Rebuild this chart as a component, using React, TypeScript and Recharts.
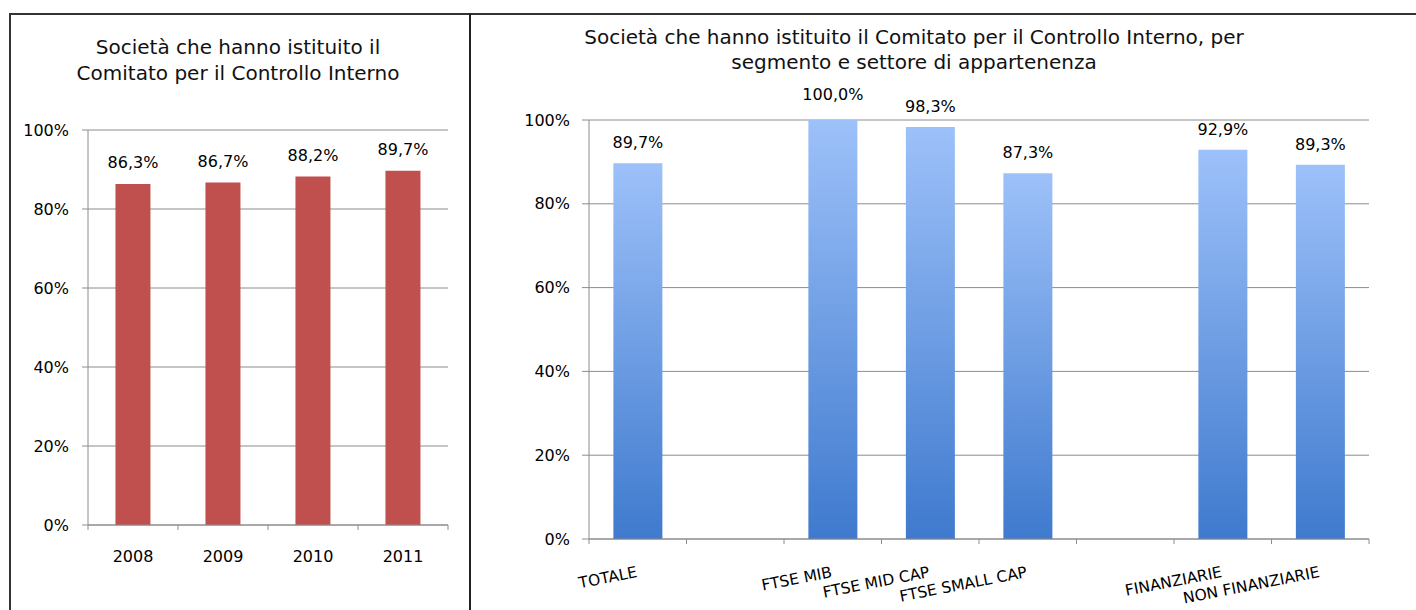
import React from 'react';
import { BarChart, Bar, XAxis, YAxis, CartesianGrid, LabelList } from 'recharts';

const leftYears = ['2008', '2009', '2010', '2011'];
const leftValues = [86.3, 86.7, 88.2, 89.7];

const rightCategories = ['TOTALE', '', 'FTSE MIB', 'FTSE MID CAP', 'FTSE SMALL CAP', '', 'FINANZIARIE', 'NON FINANZIARIE'];
const rightValues: (number | null)[] = [89.7, null, 100.0, 98.3, 87.3, null, 92.9, 89.3];

const yTicks = [0, 20, 40, 60, 80, 100];

const leftTitle = ['Società che hanno istituito il', 'Comitato per il Controllo Interno'];
const rightTitle = ['Società che hanno istituito il Comitato per il Controllo Interno, per', 'segmento e settore di appartenenza'];

const FONT = 'DejaVu Sans, Verdana, sans-serif';
const GRID = '#8c8c8c';

const leftData = leftYears.map((y, i) => ({ name: y, value: leftValues[i] }));
const rightData = rightCategories.map((c, i) => ({ name: c, value: rightValues[i] }));

// layout constants
const L_W = 470, L_H = 610;
const L_MARGIN = { top: 130, right: 22, bottom: 55, left: 28 };
const L_YAXIS_W = 60;
const L_BAND = (L_W - L_MARGIN.left - L_MARGIN.right - L_YAXIS_W) / leftYears.length;

const R_W = 946, R_H = 610;
const R_MARGIN = { top: 120, right: 47, bottom: 41, left: 59 };
const R_YAXIS_W = 60;
const R_BAND = (R_W - R_MARGIN.left - R_MARGIN.right - R_YAXIS_W) / rightCategories.length;

const fmt = (v: any) => (v == null ? '' : Number(v).toFixed(1).replace('.', ',') + '%');

const LeftXTick = (props: any) => {
  const { x, y, payload, index } = props;
  const half = L_BAND / 2;
  const isLast = index === leftYears.length - 1;
  return (
    <g>
      <line x1={x - half} x2={x - half} y1={y} y2={y + 5} stroke={GRID} />
      {isLast && <line x1={x + half} x2={x + half} y1={y} y2={y + 5} stroke={GRID} />}
      <text x={x} y={y + 37} textAnchor="middle" fontFamily={FONT} fontSize={16} fill="#000">
        {payload.value}
      </text>
    </g>
  );
};

const RightXTick = (props: any) => {
  const { x, y, payload, index } = props;
  const half = R_BAND / 2;
  const isLast = index === rightCategories.length - 1;
  const ty = y + 38;
  return (
    <g>
      <line x1={x - half} x2={x - half} y1={y} y2={y + 5} stroke={GRID} />
      {isLast && <line x1={x + half} x2={x + half} y1={y} y2={y + 5} stroke={GRID} />}
      <text x={x} y={ty} textAnchor="end" transform={`rotate(-11 ${x} ${ty})`} fontFamily={FONT} fontSize={15.5} fill="#000">
        {payload.value}
      </text>
    </g>
  );
};

const RightLabel = (props: any) => {
  const { x, y, width, value } = props;
  if (value == null) return null;
  const off = value >= 100 ? 20 : 15;
  return (
    <text x={x + width / 2} y={y - off} textAnchor="middle" fontFamily={FONT} fontSize={16} fill="#000">
      {fmt(value)}
    </text>
  );
};

const LeftLabel = (props: any) => {
  const { x, y, width, value } = props;
  if (value == null) return null;
  return (
    <text x={x + width / 2} y={y - 16} textAnchor="middle" fontFamily={FONT} fontSize={16} fill="#000">
      {fmt(value)}
    </text>
  );
};

const titleStyle: React.CSSProperties = {
  position: 'absolute',
  fontFamily: FONT,
  fontSize: 20,
  lineHeight: '26px',
  textAlign: 'center',
  color: '#111',
  whiteSpace: 'nowrap',
};

export default function App() {
  return (
    <div style={{ position: 'absolute', left: 0, top: 0, width: 1416, height: 610, overflow: 'hidden', background: '#fff' }}>
      {/* frame */}
      <div style={{ position: 'absolute', left: 9, top: 13, width: 1430, height: 640, border: '2px solid #333', boxSizing: 'border-box' }} />
      <div style={{ position: 'absolute', left: 469, top: 13, width: 2, height: 620, background: '#222' }} />

      <div style={{ ...titleStyle, left: 0, width: 476, top: 34 }}>
        {leftTitle.map((t) => (
          <div key={t}>{t}</div>
        ))}
      </div>
      <div style={{ ...titleStyle, left: 470, width: 888, top: 25, lineHeight: '25px' }}>
        {rightTitle.map((t) => (
          <div key={t}>{t}</div>
        ))}
      </div>

      <div style={{ position: 'absolute', left: 0, top: 0 }}>
        <BarChart width={L_W} height={L_H} data={leftData} margin={L_MARGIN} barCategoryGap="30.5%">
          <CartesianGrid horizontal vertical={false} stroke={GRID} />
          <XAxis
            dataKey="name"
            tick={<LeftXTick />}
            tickLine={false}
            tickSize={0}
            tickMargin={0}
            axisLine={{ stroke: GRID }}
            height={30}
            interval={0}
          />
          <YAxis
            domain={[0, 100]}
            ticks={yTicks}
            tickFormatter={(v: number) => `${v}%`}
            width={L_YAXIS_W}
            tickSize={6}
            tickMargin={13}
            tickLine={{ stroke: GRID }}
            axisLine={{ stroke: GRID }}
            tick={{ fill: '#000', fontSize: 16, fontFamily: FONT }}
            interval={0}
          />
          <Bar dataKey="value" fill="#C0504D" isAnimationActive={false}>
            <LabelList dataKey="value" content={<LeftLabel />} />
          </Bar>
        </BarChart>
      </div>

      <div style={{ position: 'absolute', left: 470, top: 0 }}>
        <BarChart width={R_W} height={R_H} data={rightData} margin={R_MARGIN} barCategoryGap="25%">
          <defs>
            <linearGradient id="blueGrad" x1="0" y1="0" x2="0" y2="1">
              <stop offset="0%" stopColor="#9DC1F9" />
              <stop offset="100%" stopColor="#3F7ACE" />
            </linearGradient>
          </defs>
          <CartesianGrid horizontal vertical={false} stroke={GRID} />
          <XAxis
            dataKey="name"
            tick={<RightXTick />}
            tickLine={false}
            tickSize={0}
            tickMargin={0}
            axisLine={{ stroke: GRID }}
            height={30}
            interval={0}
          />
          <YAxis
            domain={[0, 100]}
            ticks={yTicks}
            tickFormatter={(v: number) => `${v}%`}
            width={R_YAXIS_W}
            tickSize={7}
            tickMargin={12}
            tickLine={{ stroke: GRID }}
            axisLine={{ stroke: GRID }}
            tick={{ fill: '#000', fontSize: 16, fontFamily: FONT }}
            interval={0}
          />
          <Bar dataKey="value" fill="url(#blueGrad)" isAnimationActive={false}>
            <LabelList dataKey="value" content={<RightLabel />} />
          </Bar>
        </BarChart>
      </div>
    </div>
  );
}
